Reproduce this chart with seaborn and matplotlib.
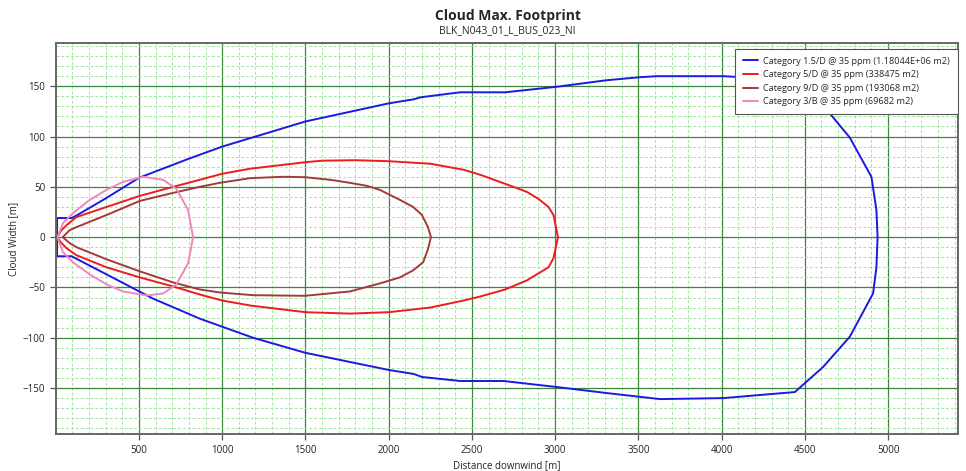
import numpy as np
import pandas as pd
import matplotlib
matplotlib.use("Agg")
import matplotlib.pyplot as plt
from matplotlib.ticker import MultipleLocator
import seaborn as sns

# Footprint contours (upper edge left->right, then lower edge right->left)
blue_x = [8, 8, 96, 130, 305, 500, 800, 1000, 1200, 1500, 2000, 2150, 2190, 2430, 2700, 3010, 3310,
          3510, 3610, 4010, 4250, 4440, 4650, 4770, 4900, 4930, 4937,
          4930, 4910, 4770, 4610, 4440, 4010, 3630, 3310, 3010, 2690, 2430, 2200, 2150, 2000,
          1500, 1185, 865, 583, 305, 130, 96, 8, 8]
blue_y = [0, 19, 19, 22, 39, 59, 78, 90, 100, 115, 133, 137, 139, 144, 144, 149.5, 156,
          159, 160, 160, 158, 154, 123, 99, 60, 27, 0,
          -30, -56, -99, -129, -154, -160, -161, -155, -149, -143, -143, -139, -136, -132,
          -115, -100, -81, -61, -37, -22, -19, -19, 0]

red_x = [10, 30, 65, 125, 305, 505, 705, 865, 1000, 1166, 1500, 1600, 1800, 2000, 2250, 2450, 2550,
         2650, 2750, 2830, 2900, 2960, 2990, 3017,
         2990, 2960, 2830, 2700, 2550, 2450, 2250, 2000, 1770, 1500, 1170, 1000, 865, 705, 505,
         305, 125, 65, 30, 10]
red_y = [0, 6, 12, 20, 30, 41, 50, 57, 63, 68, 74.5, 76, 76.5, 75.5, 73, 67, 62,
         56, 50, 45, 38, 30, 22, 0,
         -21, -30, -43, -52, -59, -63, -70, -74.6, -76, -74.6, -68, -63, -57, -49, -40,
         -30, -18, -11, -5, 0]

brown_x = [42, 84, 125, 305, 505, 705, 865, 985, 1166, 1365, 1497, 1650, 1767, 1870, 1947, 2068,
           2147, 2200, 2236, 2254,
           2236, 2207, 2147, 2068, 1947, 1767, 1497, 1185, 985, 865, 705, 505, 305, 125, 84, 42]
brown_y = [0, 7, 10, 22, 36, 44, 50, 54, 58.6, 60, 59.6, 57, 54, 51, 47, 37,
           30, 22, 10, 0,
           -12, -25, -33, -40, -46, -54, -58.3, -57.7, -55, -52, -45, -34, -22, -10, -6, 0]

pink_x = [10, 44, 104, 204, 305, 405, 525, 645, 725, 795, 825,
          795, 725, 645, 547, 405, 305, 204, 104, 44, 10]
pink_y = [0, 14, 24, 37, 47, 55, 60, 57, 48, 27, 0,
          -26, -47, -56, -58, -54, -47, -37, -25, -15, 0]

labels = ["Category 1.5/D @ 35 ppm (1.18044E+06 m2)",
          "Category 5/D @ 35 ppm (338475 m2)",
          "Category 9/D @ 35 ppm (193068 m2)",
          "Category 3/B @ 35 ppm (69682 m2)"]
colors = ["#1a1ae0", "#ee1c1c", "#a33a3a", "#f088bc"]

frames = []
for lab, xs, ys in zip(labels, [blue_x, red_x, brown_x, pink_x], [blue_y, red_y, brown_y, pink_y]):
    frames.append(pd.DataFrame({"x": xs, "y": ys, "series": lab}))
df = pd.concat(frames, ignore_index=True)

sns.set_style("white")
plt.rcParams['font.family'] = ['Open Sans', 'DejaVu Sans']

fig = plt.figure(figsize=(9.66, 4.71), dpi=100)
ax = fig.add_axes([0.0577, 0.0779, 0.934, 0.8308])

sns.lineplot(data=df, x="x", y="y", hue="series", palette=dict(zip(labels, colors)),
             sort=False, estimator=None, linewidth=1.4, ax=ax)

ax.set_xlim(0, 5420)
ax.set_ylim(-196, 193)
ax.xaxis.set_minor_locator(MultipleLocator(100))
ax.yaxis.set_minor_locator(MultipleLocator(10))
ax.set_xticks([500, 1000, 1500, 2000, 2500, 3000, 3500, 4000, 4500, 5000])
ax.set_yticks([-150, -100, -50, 0, 50, 100, 150])

ax.grid(which="minor", color="#a3e6a3", linestyle=(0, (3, 2)), linewidth=0.7)
ax.grid(which="major", color="#3a883a", linestyle="-", linewidth=0.9)
ax.set_axisbelow(True)

ax.tick_params(which="both", direction="out", color="#555555", labelsize=7, labelcolor="#222222")
ax.tick_params(which="major", length=4, width=0.9)
ax.tick_params(which="minor", length=3, width=0.8)
ax.tick_params(axis="x", bottom=True)
ax.tick_params(axis="y", left=True)
for s in ax.spines.values():
    s.set_color("#666666")
    s.set_linewidth(1.4)

ax.set_xlabel("Distance downwind [m]", fontsize=7, color="#222222", labelpad=3)
ax.set_ylabel("Cloud Width [m]", fontsize=7, color="#222222", labelpad=3)

fig.text(0.5255, 0.967, "Cloud Max. Footprint", ha="center", va="center",
         fontsize=10, fontweight="bold")
fig.text(0.5255, 0.934, "BLK_N043_01_L_BUS_023_NI", ha="center", va="center", fontsize=7.5)

leg = ax.legend(loc="upper right", bbox_to_anchor=(1.0, 0.985), borderaxespad=0,
                fontsize=6.6, frameon=True, fancybox=False, edgecolor="#555555", framealpha=1,
                handlelength=1.6, borderpad=0.85, labelspacing=0.5, handletextpad=0.6)
leg.get_frame().set_linewidth(0.8)

plt.savefig("out.png", dpi=100)
plt.close()
